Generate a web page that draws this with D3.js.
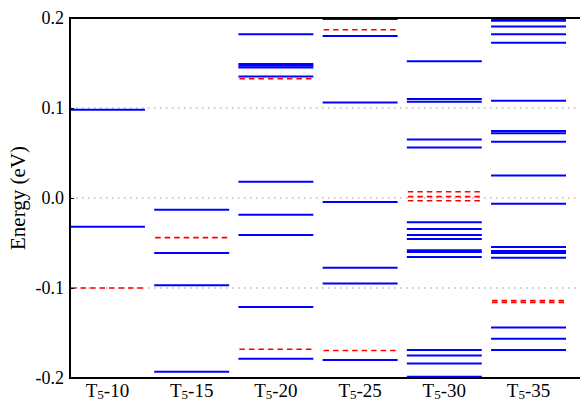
<!DOCTYPE html>
<html>
<head>
<meta charset="utf-8">
<script src="https://cdn.jsdelivr.net/npm/d3@7"></script>
<style>
  body { margin: 0; background: #fff; }
  svg, svg text, svg tspan { font-family: "Liberation Serif", "Times New Roman", serif; }
</style>
</head>
<body>
<div class="chart"></div>
<script>
// Energy levels per structure
var categories = ["10", "15", "20", "25", "30", "35"];

// solid blue levels (eV)
var blueLevels = [
  [0.098, -0.032],
  [-0.013, -0.061, -0.097, -0.193],
  [0.182, 0.149, 0.147, 0.145, 0.135, 0.018, -0.0185, -0.041, -0.121, -0.1785],
  [0.199, 0.180, 0.106, -0.0045, -0.0775, -0.095, -0.180],
  [0.152, 0.110, 0.107, 0.065, 0.056, -0.027, -0.0345, -0.041, -0.0455, -0.058, -0.060, -0.0655, -0.169, -0.175, -0.184, -0.1985],
  [0.199, 0.197, 0.1905, 0.182, 0.1725, 0.108, 0.0745, 0.072, 0.0625, 0.025, -0.0065, -0.0545, -0.059, -0.061, -0.0665, -0.144, -0.1565, -0.169]
];

// dashed red levels (eV)
var redLevels = [
  [-0.100],
  [-0.044],
  [0.1325, -0.168],
  [0.187, -0.1695],
  [0.007, 0.0015, -0.003],
  [-0.114, -0.116]
];

var yTicks = [0.2, 0.1, 0.0, -0.1, -0.2];
var gridTicks = [0.1, 0.0, -0.1];

var FONT = "Liberation Serif";

var svgWidth = 580;
var svgHeight = 405;

var margin = { top: 18, right: 0, bottom: 27, left: 70 };
var height = svgHeight - margin.top - margin.bottom;

var svg = d3.select(".chart")
  .append("svg")
  .attr("width", svgWidth)
  .attr("height", svgHeight)
  .attr("font-family", FONT);

var chartGroup = svg.append("g")
  .attr("transform", `translate(${margin.left}, ${margin.top})`);

var xBandScale = d3.scaleBand()
  .domain(categories)
  .range([0, 496])
  .paddingInner(0.11)
  .paddingOuter(0);

var yLinearScale = d3.scaleLinear()
  .domain([-0.2, 0.2])
  .range([height, 0]);

var plotRight = svgWidth - margin.left;

// dotted grid
chartGroup.selectAll(".grid")
  .data(gridTicks)
  .enter()
  .append("line")
  .attr("x1", 0)
  .attr("x2", plotRight)
  .attr("y1", d => yLinearScale(d))
  .attr("y2", d => yLinearScale(d))
  .attr("stroke", "#999")
  .attr("stroke-width", 1)
  .attr("stroke-dasharray", "1.5,4.5");

// blue and red levels
categories.forEach(function(c, i) {
  chartGroup.selectAll(".blue" + i)
    .data(blueLevels[i])
    .enter()
    .append("line")
    .attr("x1", xBandScale(c))
    .attr("x2", xBandScale(c) + xBandScale.bandwidth())
    .attr("y1", d => yLinearScale(d))
    .attr("y2", d => yLinearScale(d))
    .attr("stroke", "#0000ff")
    .attr("stroke-width", 2);

  chartGroup.selectAll(".red" + i)
    .data(redLevels[i])
    .enter()
    .append("line")
    .attr("x1", xBandScale(c) + 1)
    .attr("x2", xBandScale(c) + xBandScale.bandwidth())
    .attr("y1", d => yLinearScale(d))
    .attr("y2", d => yLinearScale(d))
    .attr("stroke", "#ff0000")
    .attr("stroke-width", 1.6)
    .attr("stroke-dasharray", "5.5,4");
});

// frame: left, top, bottom
chartGroup.append("line")
  .attr("x1", 0).attr("x2", 0)
  .attr("y1", 0).attr("y2", height)
  .attr("stroke", "#000").attr("stroke-width", 2);
chartGroup.append("line")
  .attr("x1", -1).attr("x2", plotRight)
  .attr("y1", 0).attr("y2", 0)
  .attr("stroke", "#000").attr("stroke-width", 2);
chartGroup.append("line")
  .attr("x1", -1).attr("x2", plotRight)
  .attr("y1", height).attr("y2", height)
  .attr("stroke", "#000").attr("stroke-width", 2);

// y axis, ticks inward
var leftAxis = d3.axisLeft(yLinearScale)
  .tickValues(yTicks)
  .tickSize(-4)
  .tickPadding(6)
  .tickFormat(d => d3.format(".1f")(d).replace("−", "-"));

var yAxisG = chartGroup.append("g").call(leftAxis)
  .attr("font-family", FONT)
  .attr("font-size", 18);
yAxisG.select(".domain").remove();
yAxisG.selectAll("line").attr("stroke", "#000").attr("stroke-width", 1);
yAxisG.selectAll("text")
  .style("font-family", FONT)
  .style("font-size", "18px")
  .attr("fill", "#000");

// x labels with subscript
var bottomAxis = d3.axisBottom(xBandScale).tickSize(0).tickPadding(3).tickFormat("");
var xAxisG = chartGroup.append("g")
  .attr("transform", `translate(0, ${height})`)
  .call(bottomAxis)
  .attr("font-family", FONT)
  .attr("font-size", 19);
xAxisG.select(".domain").remove();
xAxisG.selectAll(".tick text").each(function(d) {
  var t = d3.select(this)
    .style("font-family", FONT)
    .style("font-size", "19px")
    .attr("fill", "#000")
    .attr("dy", "0.85em");
  t.append("tspan").text("T");
  t.append("tspan").style("font-size", "13px").attr("dy", "2").text("5");
  t.append("tspan").attr("dy", "-2").text("-" + d);
});

// Create axes labels
chartGroup.append("text")
  .attr("transform", "rotate(-90)")
  .attr("y", 0 - margin.left + 25)
  .attr("x", 0 - (height / 2))
  .attr("text-anchor", "middle")
  .attr("font-family", FONT)
  .attr("font-size", 21)
  .style("font-family", FONT)
  .style("font-size", "21px")
  .text("Energy (eV)");
</script>
</body>
</html>
